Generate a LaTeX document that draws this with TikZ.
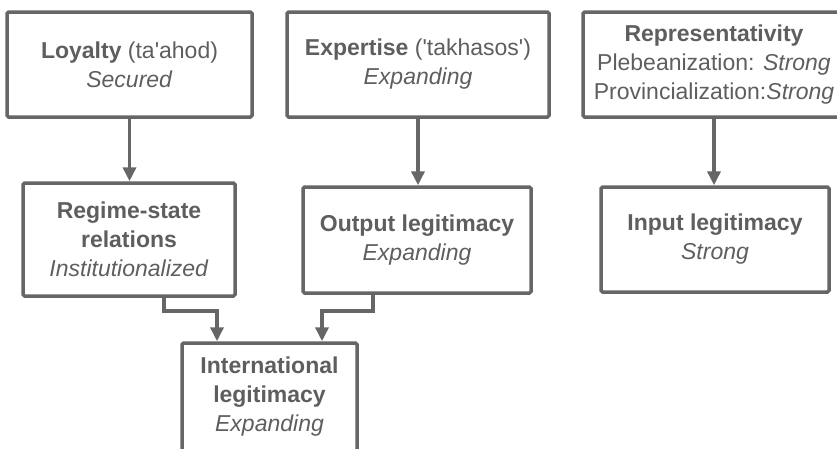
\documentclass[tikz,border=0pt]{standalone}
\usepackage{fontspec}
\setmainfont{Liberation Sans}
\usepackage{tikz}
\usetikzlibrary{arrows.meta}
\usetikzlibrary{positioning}
\definecolor{linegrey}{HTML}{666666}
\definecolor{textgrey}{HTML}{5E5E5E}
\tikzstyle{factor}=[draw=linegrey,line width=3.5pt,rounded corners=1.5pt,
                text=textgrey,align=center,inner sep=0pt,
                font=\fontsize{23}{29}\selectfont]
\tikzstyle{link}=[draw=linegrey,line width=3.5pt,
                -{Triangle[length=14pt,width=13pt]}]
\begin{document}
\begin{tikzpicture}[x=1pt,y=-1pt]
\useasboundingbox (0,0) rectangle (837,448);
\clip (0,0) rectangle (837,448);
\node[factor,minimum width=245pt,minimum height=105pt] (loyalty) at (129.5,64.5)
  {\textbf{Loyalty} (ta\textquotesingle ahod)\\\textit{Secured}};
\node[factor,minimum width=262pt,minimum height=105pt] (expertise) at (418,64.5)
  {\textbf{Expertise} (\textquotesingle takhasos\textquotesingle)\\\textit{Expanding}};
\node[factor,minimum width=262pt,minimum height=105pt] (repr) at (714,64.5)
  {\textbf{Representativity}\\Plebeanization: \textit{Strong}\\Provincialization:\textit{Strong}};
\node[factor,minimum width=212pt,minimum height=113pt] (regime) at (129,239.5)
  {\textbf{Regime-state}\\\textbf{relations}\\\textit{Institutionalized}};
\node[factor,minimum width=228pt,minimum height=106pt] (output) at (417,240)
  {\textbf{Output legitimacy}\\\textit{Expanding}};
\node[factor,minimum width=228pt,minimum height=105pt] (input) at (715,239.5)
  {\textbf{Input legitimacy}\\\textit{Strong}};
\node[factor,minimum width=175pt,minimum height=108pt] (intl) at (269.5,397)
  {\textbf{International}\\\textbf{legitimacy}\\\textit{Expanding}};
\draw[link] (loyalty.south) -- (loyalty.south |- regime.north);
\draw[link] (expertise.south) -- (expertise.south |- output.north);
\draw[link] (repr.south) -- (repr.south |- input.north);
\draw[link] ([xshift=35pt]regime.south) -- ++(0,13) -| ([xshift=-52.5pt]intl.north);
\draw[link] ([xshift=-44pt]output.south) -- ++(0,16) -| ([xshift=52.5pt]intl.north);
\end{tikzpicture}
\end{document}
